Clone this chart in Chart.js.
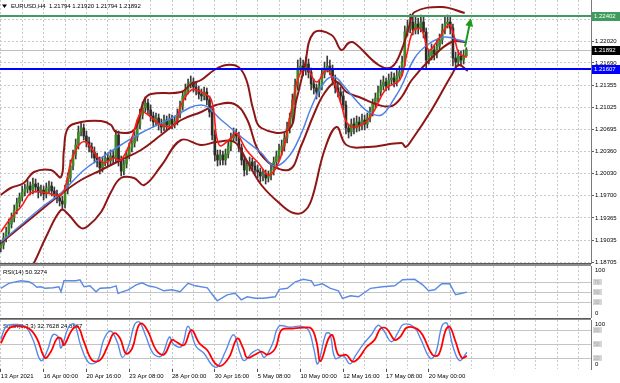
<!DOCTYPE html>
<html>
<head>
<meta charset="utf-8">
<script src="https://cdn.jsdelivr.net/npm/chart.js@4.4.0/dist/chart.umd.min.js"></script>
<style>
  html, body { margin: 0; padding: 0; background: #fff; }
  #wrap { position: relative; width: 620px; height: 383px; overflow: hidden; background: #fff; }
  canvas { position: absolute; left: 0; }
  .sep { position: absolute; left: 0; width: 591px; background: #8c8c8c; border-top: 1px solid #5a5a5a; box-sizing: border-box; }
</style>
</head>
<body>
<div id="wrap">
  <canvas id="main" width="620" height="270" style="top:0"></canvas>
  <div class="sep" style="top:263px;height:3px"></div>
  <canvas id="rsi" width="620" height="52" style="top:266px"></canvas>
  <div class="sep" style="top:318px;height:2px"></div>
  <canvas id="stoch" width="620" height="63" style="top:320px"></canvas>
</div>
<script>
// EURUSD H4 - candles, bands, MAs, RSI and stochastic panels

// ---- price bars (H4) ----
const firstOpen = 1.18920;
const closes = [
  1.18960,1.19065,1.19155,1.19275,1.19365,1.19485,1.19590,1.19680,1.19755,1.19800,
  1.19845,1.19785,1.19875,1.19830,1.19755,1.19785,1.19725,1.19815,1.19845,1.19770,
  1.19725,1.19665,1.19620,1.19575,1.19785,1.19965,1.20145,1.20310,1.20460,1.20655,
  1.20715,1.20595,1.20505,1.20430,1.20355,1.20265,1.20205,1.20115,1.20205,1.20265,
  1.20220,1.20295,1.20265,1.20610,1.20235,1.20070,1.20175,1.20310,1.20415,1.20490,
  1.20580,1.20760,1.20910,1.21015,1.21090,1.20985,1.20895,1.20805,1.20865,1.20775,
  1.20730,1.20835,1.20760,1.20850,1.20775,1.20820,1.20925,1.21045,1.21195,1.21285,
  1.21375,1.21405,1.21330,1.21285,1.21225,1.21195,1.21255,1.21135,1.20955,1.20610,
  1.20310,1.20235,1.20310,1.20235,1.20325,1.20445,1.20565,1.20625,1.20595,1.20415,
  1.20235,1.20085,1.20145,1.20205,1.20145,1.20085,1.20055,1.19995,1.20025,1.19965,
  1.20010,1.20085,1.20205,1.20295,1.20385,1.20445,1.20565,1.20715,1.20865,1.21135,
  1.21360,1.21615,1.21645,1.21585,1.21675,1.21555,1.21375,1.21315,1.21255,1.21345,
  1.21525,1.21615,1.21645,1.21585,1.21435,1.21315,1.21255,1.21195,1.21060,1.20715,
  1.20655,1.20775,1.20715,1.20805,1.20745,1.20835,1.20775,1.20865,1.20955,1.21075,
  1.21165,1.21255,1.21345,1.21405,1.21345,1.21435,1.21465,1.21405,1.21495,1.21555,
  1.21705,1.22155,1.22215,1.22305,1.22185,1.22275,1.22215,1.22305,1.22155,1.21735,
  1.21795,1.21885,1.21825,1.21945,1.22035,1.22185,1.22275,1.22305,1.22215,1.21765,
  1.21705,1.21795,1.21735,1.21794,1.21892
];
const highs = [
  1.19035,1.19140,1.19230,1.19350,1.19440,1.19560,1.19665,1.19740,1.19845,1.19875,
  1.19935,1.19905,1.19965,1.19950,1.19890,1.19860,1.19845,1.19890,1.19920,1.19905,
  1.19830,1.19785,1.19725,1.19695,1.19860,1.20040,1.20235,1.20385,1.20550,1.20745,
  1.20805,1.20775,1.20670,1.20580,1.20490,1.20430,1.20340,1.20280,1.20280,1.20355,
  1.20340,1.20385,1.20370,1.20685,1.20670,1.20295,1.20235,1.20385,1.20490,1.20580,
  1.20670,1.20835,1.21000,1.21105,1.21180,1.21150,1.21060,1.20955,1.20940,1.20925,
  1.20850,1.20910,1.20895,1.20925,1.20910,1.20895,1.21000,1.21120,1.21270,1.21375,
  1.21450,1.21495,1.21465,1.21405,1.21345,1.21300,1.21330,1.21315,1.21195,1.21015,
  1.20685,1.20385,1.20385,1.20370,1.20400,1.20520,1.20640,1.20715,1.20700,1.20655,
  1.20475,1.20295,1.20220,1.20280,1.20265,1.20220,1.20160,1.20115,1.20100,1.20085,
  1.20070,1.20160,1.20280,1.20370,1.20475,1.20535,1.20640,1.20805,1.20940,1.21225,
  1.21450,1.21735,1.21765,1.21735,1.21780,1.21750,1.21615,1.21450,1.21375,1.21435,
  1.21615,1.21705,1.21795,1.21735,1.21660,1.21510,1.21390,1.21330,1.21270,1.21120,
  1.20775,1.20850,1.20865,1.20895,1.20880,1.20925,1.20910,1.20940,1.21030,1.21150,
  1.21240,1.21345,1.21435,1.21495,1.21465,1.21525,1.21555,1.21540,1.21585,1.21645,
  1.21795,1.22245,1.22335,1.22425,1.22380,1.22395,1.22365,1.22410,1.22380,1.22215,
  1.21885,1.21975,1.21960,1.22035,1.22125,1.22275,1.22380,1.22410,1.22380,1.22275,
  1.21855,1.21885,1.21870,1.21885,1.21920
];
const lows = [
  1.18855,1.18900,1.19005,1.19095,1.19215,1.19305,1.19425,1.19530,1.19620,1.19695,
  1.19740,1.19710,1.19725,1.19755,1.19665,1.19695,1.19635,1.19665,1.19740,1.19695,
  1.19650,1.19590,1.19545,1.19485,1.19515,1.19725,1.19905,1.20085,1.20250,1.20400,
  1.20595,1.20535,1.20430,1.20355,1.20265,1.20190,1.20130,1.20025,1.20055,1.20145,
  1.20145,1.20160,1.20190,1.20205,1.20145,1.19995,1.20010,1.20115,1.20250,1.20355,
  1.20430,1.20520,1.20700,1.20850,1.20955,1.20925,1.20820,1.20730,1.20745,1.20685,
  1.20640,1.20670,1.20685,1.20700,1.20700,1.20715,1.20760,1.20865,1.20985,1.21135,
  1.21225,1.21315,1.21255,1.21210,1.21150,1.21120,1.21135,1.21060,1.20880,1.20535,
  1.20220,1.20145,1.20160,1.20160,1.20160,1.20265,1.20370,1.20505,1.20520,1.20355,
  1.20160,1.19995,1.20010,1.20070,1.20070,1.20010,1.19965,1.19905,1.19920,1.19875,
  1.19905,1.19935,1.20010,1.20130,1.20220,1.20310,1.20370,1.20490,1.20640,1.20790,
  1.21060,1.21285,1.21525,1.21495,1.21510,1.21465,1.21285,1.21225,1.21150,1.21180,
  1.21285,1.21465,1.21555,1.21510,1.21360,1.21240,1.21180,1.21105,1.20985,1.20625,
  1.20565,1.20595,1.20625,1.20655,1.20670,1.20685,1.20685,1.20715,1.20805,1.20895,
  1.21015,1.21105,1.21195,1.21285,1.21270,1.21285,1.21375,1.21330,1.21345,1.21435,
  1.21495,1.21645,1.22095,1.22140,1.22110,1.22125,1.22125,1.22155,1.22065,1.21615,
  1.21675,1.21735,1.21735,1.21765,1.21885,1.21975,1.22125,1.22215,1.22125,1.21645,
  1.21600,1.21645,1.21660,1.21675,1.21794
];

// ---- axes ----
const priceTicks = [1.22350,1.22020,1.21690,1.21355,1.21025,1.20695,1.20360,1.20030,1.19700,1.19365,1.19035,1.18705];
const timeLabels = ['13 Apr 2021','16 Apr 00:00','20 Apr 16:00','23 Apr 08:00','28 Apr 00:00','30 Apr 16:00',
  '5 May 08:00','10 May 00:00','12 May 16:00','17 May 08:00','20 May 00:00'];
const labelBars = [0,16,32,48,64,80,96,112,128,144,160];
const gridBars = [0,8,16,24,32,40,48,56,64,72,80,88,96,104,112,120,128,136,144,152,160,168,176,184,192,200,208,216];

// ---- indicators, [bar, value] ----
const bbUpper = [[0,1.19710],[3.7,1.19815],[8.6,1.19890],[12.4,1.20055],[18.7,1.20085],[22.5,1.19980],[23.6,1.20385],
  [25.1,1.20715],[30,1.20805],[37.5,1.20820],[41.2,1.20760],[43.1,1.20655],[49.8,1.20685],[53.6,1.21135],[56.2,1.21225],
  [67.4,1.21255],[71.2,1.21375],[74.9,1.21435],[79.8,1.21585],[84.3,1.21660],[88.8,1.21630],[91.8,1.21435],[94.4,1.20985],
  [97.4,1.20715],[107.5,1.20685],[110.5,1.21135],[113.5,1.21630],[116.9,1.22140],[123.6,1.22110],[127.3,1.21885],
  [130,1.21990],[132.2,1.21990],[141.2,1.21660],[146.1,1.21630],[149.8,1.21885],[152.8,1.22260],[154.7,1.22455],
  [164.8,1.22530],[173.4,1.22440]];
const bbMiddle = [[0,1.18990],[12.4,1.19395],[22.5,1.19725],[30,1.19935],[37.5,1.20085],[44.9,1.20235],[52.4,1.20385],
  [59.9,1.20610],[67.4,1.20835],[74.9,1.20955],[80.5,1.21060],[87.3,1.21075],[91.8,1.20865],[97.4,1.20310],[107.5,1.20085],
  [112.4,1.20460],[116.9,1.20910],[121,1.21240],[125.5,1.21405],[129.2,1.21255],[134.8,1.21165],[141.2,1.21060],
  [146.1,1.21045],[149.8,1.21180],[153.6,1.21435],[161,1.21765],[168.5,1.22005],[174.2,1.22005]];
const bbLower = [[0,1.17835],[6.7,1.18285],[12.4,1.18690],[16.9,1.19080],[22.5,1.19485],[25.1,1.19425],[30,1.19215],
  [32.6,1.19245],[37.5,1.19455],[41.2,1.19755],[44.9,1.19965],[49.8,1.19965],[53.6,1.19860],[59.9,1.20145],[67.4,1.20535],
  [74.9,1.20460],[80.5,1.20505],[87.3,1.20505],[91.8,1.20235],[97.4,1.19860],[104.9,1.19560],[109.4,1.19440],
  [113.1,1.19455],[116.1,1.19635],[121,1.20385],[125.5,1.20730],[129.2,1.20460],[137.5,1.20430],[149.8,1.20490],
  [151.3,1.20430],[153.6,1.20535],[161,1.20985],[168.5,1.21510],[171.2,1.21660],[174.5,1.21570]];
const maFast = [[0,1.19155],[3.7,1.19365],[7.5,1.19530],[11.2,1.19740],[15,1.19755],[18.7,1.19725],[22.5,1.19710],
  [24.3,1.19860],[26.2,1.20205],[29.2,1.20460],[31.8,1.20505],[35.6,1.20310],[38.6,1.20190],[41.9,1.20265],[44.9,1.20235],
  [48.7,1.20535],[52.4,1.20955],[55.1,1.20910],[59.9,1.20760],[64.8,1.20760],[67.4,1.21060],[71.2,1.21285],[74.9,1.21255],
  [78.7,1.21135],[81.6,1.20460],[86.1,1.20565],[88,1.20640],[91.8,1.20385],[96.3,1.20190],[100.4,1.20010],[104.9,1.20310],
  [108.6,1.20985],[111.2,1.21465],[114.2,1.21615],[118,1.21405],[121.7,1.21585],[124.3,1.21435],[127.3,1.21060],
  [130,1.20760],[134.8,1.20760],[138.6,1.20910],[144.2,1.21315],[149.1,1.21435],[151.7,1.21810],[154.3,1.22185],
  [157.3,1.22185],[159.9,1.21885],[162.9,1.22005],[167.4,1.22260],[169.3,1.22110],[171.2,1.21840],[174.2,1.21775]];
const maSlow = [[0,1.19005],[7.5,1.19260],[15,1.19515],[22.5,1.19740],[31.1,1.20085],[37.5,1.20265],[44.9,1.20460],
  [52.4,1.20640],[62.5,1.20835],[74.9,1.21060],[82.4,1.20835],[89.9,1.20580],[97.4,1.20340],[102.2,1.20145],[107.5,1.20280],
  [112.4,1.20640],[116.1,1.21030],[121,1.21405],[124.7,1.21480],[128.5,1.21330],[133.7,1.21090],[137.5,1.20955],
  [142.3,1.20910],[147.2,1.21165],[149.8,1.21345],[154.7,1.21765],[159.9,1.21975],[165.9,1.22080],[171.2,1.22035],
  [174.2,1.22005]];
const rsiValues = [[0,58],[3,68],[7.5,73],[10.5,71],[12,67],[13.5,60],[15,61],[16.5,58],[19.5,59],[21.7,61],[22.5,51],
  [23.6,73],[28.1,73],[29.6,75],[31.1,61],[33.3,63],[35.6,51],[37.1,58],[40.8,59],[43.1,63],[43.8,48],[47.6,55],[50.6,65],
  [52.8,69],[55.1,63],[58,60],[61,53],[64,55],[67,51],[70,68],[72.7,63],[77.2,59],[78.7,48],[80.9,33],[84.6,45],[87.6,48],
  [89.9,35],[92.1,41],[95.1,38],[98.1,38],[102.6,41],[104.1,56],[107.1,58],[110.1,71],[113.1,76],[116.1,73],[117.2,63],
  [120.2,67],[123.2,58],[126.2,53],[127.7,38],[130.7,43],[133.7,41],[138.2,58],[142.7,61],[147.2,63],[150.2,75],
  [154.7,76],[157.7,65],[159.9,53],[162.2,55],[164.8,67],[167.8,67],[170,45],[172.3,48],[174.2,50.3]];
const stochMain = [[0,60],[2,88],[5,92],[9,88],[12,60],[15,15],[17.5,38],[19.5,70],[21.5,65],[22.5,42],[25.5,88],[27.5,92],
  [30,45],[33,10],[36,14],[38.5,60],[41,78],[43.5,55],[45.5,22],[48,50],[50,92],[51.8,97],[54,70],[57,30],[60,25],[63,65],
  [64.5,50],[67.5,45],[70,88],[73,45],[76,30],[79,5],[81,2],[84,35],[87,70],[89.5,30],[91,15],[94,32],[96.5,38],[98.5,22],
  [101.5,50],[104,88],[108,86],[112,88],[115,80],[117,40],[118.5,8],[121.5,72],[123,72],[125,20],[128,25],[130.5,8],
  [132.5,25],[135.5,50],[138.5,70],[141,90],[143,80],[146,55],[148.5,75],[150.5,92],[154.5,86],[157,60],[160.5,20],
  [162.5,30],[165,90],[166.8,94],[169,45],[171.5,15],[174.2,32.8]];
const stochSignal = [[0,52],[3,83],[6,89],[10.5,83],[13.5,62],[16.5,21],[18.7,34],[21,62],[22.5,62],[23.6,48],[26.6,80],
  [28.8,87],[31.1,55],[34.1,16],[37.1,16],[40.1,48],[42.3,73],[44.6,62],[46.8,30],[49.1,41],[51.3,87],[52.8,94],[55.1,76],
  [58.1,37],[61,28],[64,59],[65.5,55],[68.5,48],[71.2,80],[74.2,52],[77.2,37],[80.1,9],[82.4,4],[85.4,23],[88.4,62],
  [90.6,41],[92.1,21],[95.1,28],[97.4,34],[99.6,28],[102.6,41],[104.9,80],[108.6,83],[113.1,85],[116.1,83],[118,55],
  [119.5,14],[122.5,62],[124,69],[126.2,27],[129.2,27],[131.5,13],[133.7,20],[136.7,44],[139.7,59],[141.9,83],[144.2,83],
  [147.2,59],[149.4,66],[151.7,85],[155.4,83],[157.7,69],[161.4,27],[163.7,28],[166.3,80],[167.8,87],[170,55],[172.3,21],
  [174.2,24.9]];
const rsiLevels = [30, 50, 70];
const stochLevels = [20, 50, 80];

// ---- drawn objects ----
const resistance = 1.22402;
const support = 1.21607;
const arrowFrom = [173.5, 1.21935];
const arrowTo = [175.7, 1.22360];
const rsiTitle = 'RSI(14) 50.3274';
const stochTitle = 'Stoch(5,3,3) 32.7628 24.8867';

// ---- chart setup ----
const FONT = '"Liberation Sans", Arial, sans-serif';
const tickFont = { family: FONT, size: 6 };
const xMin = -0.3, xMax = 220.6;
const priceMin = 1.18690, priceMax = 1.22635;

const bars = closes.map((c, i) => ({ i, o: i ? closes[i - 1] : firstOpen, c, h: highs[i], l: lows[i] }));
const last = bars[bars.length - 1];

function xAxis(showLabels, h) {
  return {
    type: 'linear', min: xMin, max: xMax, offset: false,
    afterBuildTicks: s => { s.ticks = gridBars.map(v => ({ value: v })); },
    afterFit: s => { s.height = h; s.paddingLeft = 0; s.paddingRight = 0; },
    grid: {
      color: '#c9c9c9', offset: false, drawTicks: showLabels, tickLength: 3,
      tickColor: ctx => (ctx.tick && labelBars.includes(ctx.tick.value)) ? '#505050' : 'rgba(0,0,0,0)'
    },
    border: { display: false, dash: [2, 2] },
    ticks: {
      display: showLabels, autoSkip: false, maxRotation: 0, align: 'start', padding: 1,
      color: '#000', font: tickFont,
      callback: v => { const k = labelBars.indexOf(v); return k < 0 ? '' : timeLabels[k]; }
    }
  };
}

function indAxis(min, max, levels) {
  return {
    position: 'right', min, max,
    afterBuildTicks: s => { s.ticks = levels.map(v => ({ value: v })); },
    afterFit: s => { s.width = 29; s.paddingTop = 0; s.paddingBottom = 0; },
    grid: { color: '#c4c4c4', drawTicks: false },
    border: { display: true, color: '#7a7a7a', width: 1 },
    ticks: { display: false }
  };
}

function lineSet(pairs, color, width, order, tension) {
  return {
    type: 'line', data: pairs.map(p => ({ x: p[0], y: p[1] })),
    borderColor: color, borderWidth: width, pointRadius: 0, fill: false, order,
    tension: tension
  };
}

function txt(ctx, s, x, y, color, align) {
  ctx.fillStyle = color;
  ctx.textAlign = align || 'left';
  ctx.textBaseline = 'middle';
  ctx.fillText(s, x, y);
}

function priceBox(chart, value, bg) {
  const { ctx, chartArea: a, scales: { y } } = chart;
  const yp = Math.round(y.getPixelForValue(value));
  ctx.fillStyle = bg;
  ctx.fillRect(a.right + 1, yp - 4, 28, 9);
  ctx.font = '6px ' + FONT;
  txt(ctx, value.toFixed(5), a.right + 3, yp + 0.5, '#fff');
}

const mainOverlay = {
  id: 'mainOverlay',
  beforeDatasetsDraw(chart) {
    const { ctx, chartArea: a, scales: { y } } = chart;
    const yp = Math.round(y.getPixelForValue(last.c)) + 0.5;
    ctx.save();
    ctx.strokeStyle = '#bdbdbd';
    ctx.lineWidth = 1;
    ctx.beginPath(); ctx.moveTo(a.left, yp); ctx.lineTo(a.right, yp); ctx.stroke();
    ctx.restore();
  },
  afterDatasetsDraw(chart) {
    const { ctx, chartArea: a, scales: { x, y } } = chart;
    ctx.save();
    [[resistance, '#3f9b5e'], [support, '#0000ff']].forEach(([v, col]) => {
      const yp = Math.round(y.getPixelForValue(v));
      ctx.strokeStyle = col; ctx.lineWidth = 2;
      ctx.beginPath(); ctx.moveTo(a.left, yp); ctx.lineTo(a.right, yp); ctx.stroke();
    });
    // arrow
    const x0 = x.getPixelForValue(arrowFrom[0]), y0 = y.getPixelForValue(arrowFrom[1]);
    const x1 = x.getPixelForValue(arrowTo[0]), y1 = y.getPixelForValue(arrowTo[1]);
    const ang = Math.atan2(y1 - y0, x1 - x0);
    ctx.strokeStyle = '#1c9a1c'; ctx.fillStyle = '#1c9a1c'; ctx.lineWidth = 2;
    ctx.beginPath(); ctx.moveTo(x0, y0);
    ctx.lineTo(x1 - 6 * Math.cos(ang), y1 - 6 * Math.sin(ang)); ctx.stroke();
    ctx.beginPath(); ctx.moveTo(x1, y1);
    ctx.lineTo(x1 - 8 * Math.cos(ang) + 4 * Math.sin(ang), y1 - 8 * Math.sin(ang) - 4 * Math.cos(ang));
    ctx.lineTo(x1 - 8 * Math.cos(ang) - 4 * Math.sin(ang), y1 - 8 * Math.sin(ang) + 4 * Math.cos(ang));
    ctx.closePath(); ctx.fill();
    // title
    ctx.fillStyle = '#000';
    ctx.beginPath(); ctx.moveTo(2, 4.5); ctx.lineTo(7, 4.5); ctx.lineTo(4.5, 8); ctx.closePath(); ctx.fill();
    ctx.font = '6px ' + FONT;
    txt(ctx, 'EURUSD,H4  ' + [last.o, last.h, last.l, last.c].map(v => v.toFixed(5)).join(' '), 11, 6.5, '#000');
    ctx.restore();
  },
  afterDraw(chart) {
    const { ctx } = chart;
    ctx.save();
    priceBox(chart, resistance, '#3f9b5e');
    priceBox(chart, last.c, '#000');
    priceBox(chart, support, '#0000ff');
    ctx.restore();
  }
};

function panelOverlay(title, levels) {
  return {
    id: 'panel',
    beforeDatasetsDraw(chart) {
      const { ctx } = chart;
      ctx.save();
      ctx.font = '6px ' + FONT;
      txt(ctx, title, 3, 6, '#000');
      ctx.restore();
    },
    afterDraw(chart) {
      const { ctx, chartArea: a, scales: { y } } = chart;
      ctx.save();
      ctx.font = '6px ' + FONT;
      txt(ctx, '100', a.right + 4, y.getPixelForValue(100) + 3.5, '#000');
      txt(ctx, '0', a.right + 4, y.getPixelForValue(0) - 3.5, '#000');
      levels.forEach(v => {
        const yp = Math.round(y.getPixelForValue(v));
        ctx.fillStyle = '#d6d6d6';
        ctx.fillRect(a.right + 2, yp - 3, 9, 6);
        ctx.font = '5px ' + FONT;
        txt(ctx, String(v), a.right + 3, yp + 0.5, '#a9a9a9');
      });
      ctx.restore();
    }
  };
}

const base = {
  responsive: false, animation: false, devicePixelRatio: 1, events: [],
  layout: { padding: 0 },
  plugins: { legend: { display: false }, tooltip: { enabled: false } }
};

new Chart(document.getElementById('main'), {
  type: 'bar',
  data: {
    datasets: [
      lineSet(maFast, '#ff1a1a', 1.6, 1, 0.4),
      lineSet(maSlow, '#4f82e6', 1.5, 2, 0.4),
      lineSet(bbUpper, '#8e1616', 2, 3, 0.4),
      lineSet(bbMiddle, '#8e1616', 2, 3, 0.4),
      lineSet(bbLower, '#8e1616', 2, 3, 0.4),
      {
        type: 'bar', order: 9, grouped: false, barThickness: 2, minBarLength: 1,
        data: bars.map(b => ({ x: b.i, y: [b.o, b.c] })),
        backgroundColor: bars.map(b => b.c >= b.o ? '#3b8a22' : '#2e2a26')
      },
      {
        type: 'bar', order: 10, grouped: false, barThickness: 1,
        data: bars.map(b => ({ x: b.i, y: [b.l, b.h] })),
        backgroundColor: '#3a3a3a'
      }
    ]
  },
  options: Object.assign({}, base, {
    scales: {
      x: xAxis(false, 7),
      y: {
        position: 'right', min: priceMin, max: priceMax,
        afterBuildTicks: s => { s.ticks = priceTicks.map(v => ({ value: v })); },
        afterFit: s => { s.width = 29; s.paddingTop = 0; s.paddingBottom = 0; },
        grid: { color: '#c9c9c9', tickLength: 3, tickColor: '#606060' },
        border: { display: true, color: '#7a7a7a', width: 1, dash: [2, 2] },
        ticks: { color: '#000', font: tickFont, padding: 1, callback: v => v.toFixed(5) }
      }
    }
  }),
  plugins: [mainOverlay]
});

new Chart(document.getElementById('rsi'), {
  type: 'line',
  data: { datasets: [lineSet(rsiValues, '#5a8ae4', 1.4, 1, 0)] },
  options: Object.assign({}, base, {
    scales: { x: xAxis(false, 0), y: indAxis(-1.4, 102.6, rsiLevels) }
  }),
  plugins: [panelOverlay(rsiTitle, rsiLevels)]
});

new Chart(document.getElementById('stoch'), {
  type: 'line',
  data: {
    datasets: [
      lineSet(stochSignal, '#ff0000', 1.8, 1, 0.4),
      lineSet(stochMain, '#5a8ae4', 1.4, 2, 0.4)
    ]
  },
  options: Object.assign({}, base, {
    scales: { x: xAxis(true, 14), y: indAxis(-2.8, 101.3, stochLevels) }
  }),
  plugins: [panelOverlay(stochTitle, stochLevels)]
});
</script>
</body>
</html>
